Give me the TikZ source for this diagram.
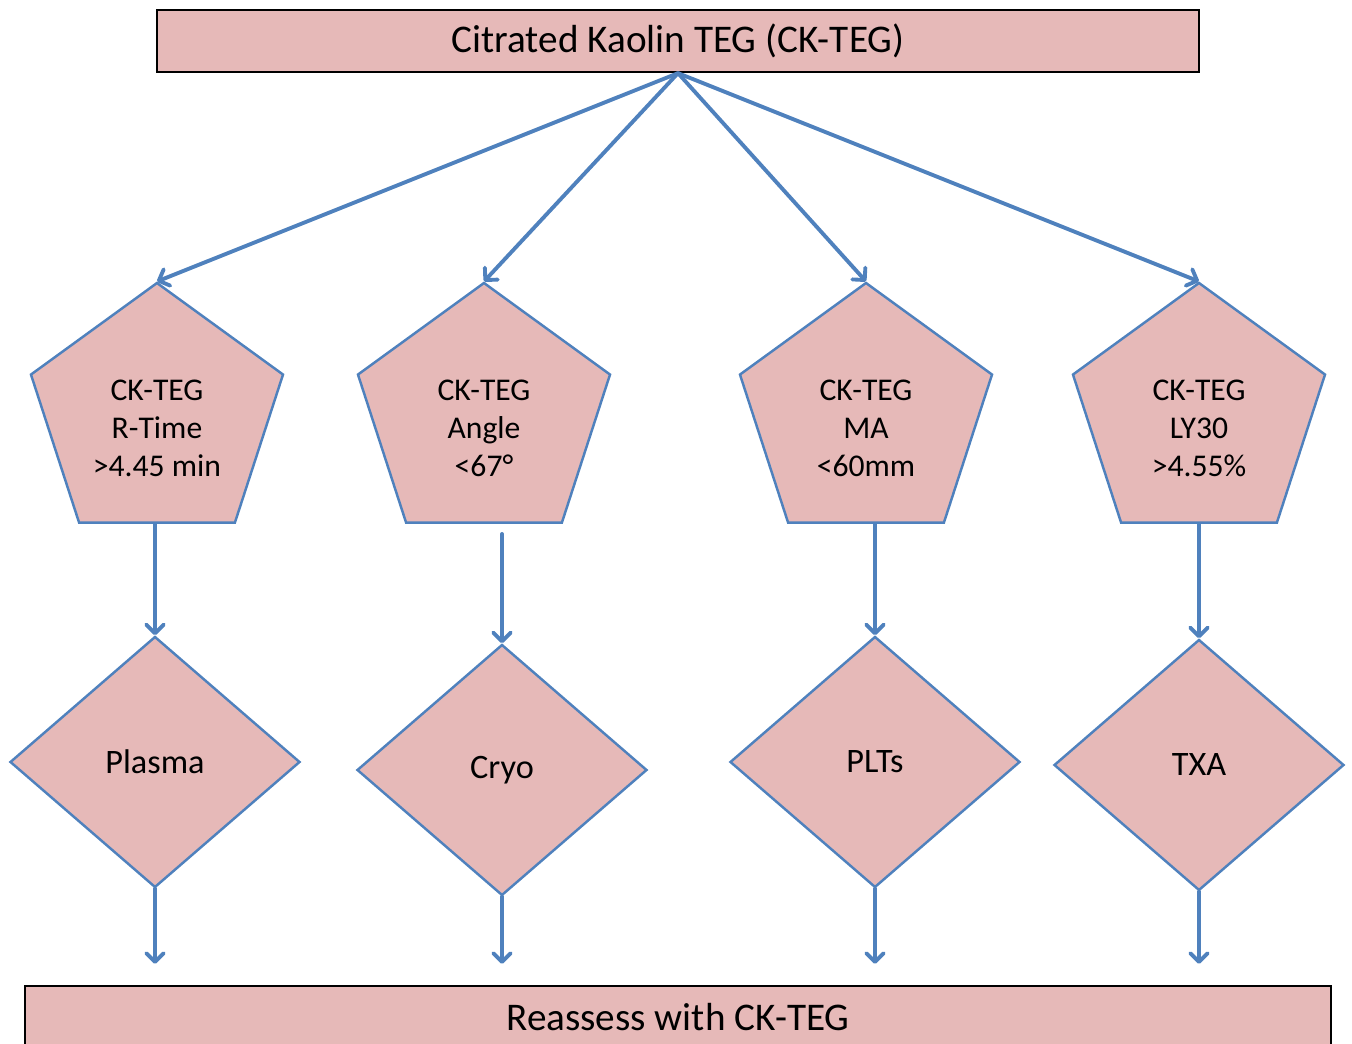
\documentclass[tikz,border=0pt]{standalone}
\usepackage{fontspec}
\setmainfont{Carlito}
\usepackage{tikz}
\usetikzlibrary{shapes,arrows.meta}
\usetikzlibrary{calc}
\definecolor{mypink}{RGB}{230,185,184}
\definecolor{myblue}{RGB}{79,129,189}

\begin{document}
\begin{tikzpicture}

\tikzstyle{pink_box} = [draw=black, line width=1.3pt, fill=mypink, minimum width=20.84cm, minimum height=1.24cm, inner sep=0, font=\fontsize{22.3}{26}\selectfont]
\tikzstyle{pent_block} = [regular polygon, regular polygon sides=5, draw=myblue, line width=1.4pt, fill=mypink, minimum size=5.3cm, inner sep=0, text height=50pt, text depth=24pt, font=\fontsize{18}{21.5}\selectfont]
\tikzstyle{diam_block} = [diamond, draw=myblue, line width=1.4pt, fill=mypink, minimum width=5.8cm, minimum height=5.02cm, inner sep=0, font=\fontsize{19.5}{23}\selectfont]
\tikzstyle{blue_arrow} = [draw=myblue, line width=2.2pt, line cap=round, -{Straight Barb[length=5pt,width=10pt,round]}]

\path[use as bounding box, clip] (0,0) rectangle (27.04,-20.88);

\node[pink_box] (ckteg) at (13.56,-0.82) {Citrated Kaolin TEG (CK-TEG)};

\node[pent_block] (rtime) at (3.14,-8.31) {\begin{tabular}{c} CK-TEG\\ R-Time\\ >4.45 min\end{tabular}};
\node[pent_block] (angle) at (9.68,-8.31) {\begin{tabular}{c} CK-TEG\\ Angle\\ <67°\end{tabular}};
\node[pent_block] (ma) at (17.32,-8.31) {\begin{tabular}{c} CK-TEG\\ MA\\ <60mm\end{tabular}};
\node[pent_block] (ly30) at (23.98,-8.31) {\begin{tabular}{c} CK-TEG\\ LY30\\ >4.55\%\end{tabular}};

\node[diam_block] (plasma) at (3.10,-15.24) {Plasma};
\node[diam_block] (cryo) at (10.04,-15.40) {Cryo};
\node[diam_block] (plts) at (17.50,-15.24) {PLTs};
\node[diam_block] (txa) at (23.98,-15.30) {TXA};

\node[pink_box, minimum width=26.12cm] (reassess) at (13.56,-20.34) {Reassess with CK-TEG};

\draw[blue_arrow] (ckteg.south) -- (rtime.corner 1);
\draw[blue_arrow] (ckteg.south) -- (angle.corner 1);
\draw[blue_arrow] (ckteg.south) -- (ma.corner 1);
\draw[blue_arrow] (ckteg.south) -- (ly30.corner 1);

\draw[blue_arrow] (rtime.south -| plasma.north) -- (plasma.north);
\draw[blue_arrow] ($(angle.south -| cryo.north)+(0,-0.2)$) -- (cryo.north);
\draw[blue_arrow] (ma.south -| plts.north) -- (plts.north);
\draw[blue_arrow] (ly30.south -| txa.north) -- (txa.north);

\draw[blue_arrow, shorten >=0.42cm] (plasma.south) -- (plasma.south |- reassess.north);
\draw[blue_arrow, shorten >=0.42cm] (cryo.south) -- (cryo.south |- reassess.north);
\draw[blue_arrow, shorten >=0.42cm] (plts.south) -- (plts.south |- reassess.north);
\draw[blue_arrow, shorten >=0.42cm] (txa.south) -- (txa.south |- reassess.north);

\end{tikzpicture}
\end{document}
